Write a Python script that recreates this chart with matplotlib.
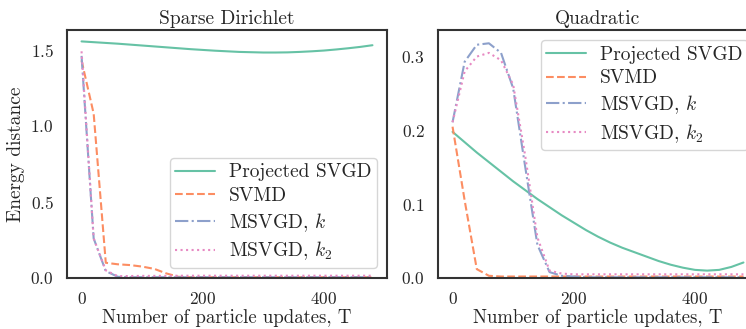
import matplotlib
matplotlib.use("Agg")
import seaborn as sns
from matplotlib import pyplot as plt

sns.set_theme(style="white")
plt.rcParams["font.family"] = ["cmr10", "DejaVu Serif"]
plt.rcParams["mathtext.fontset"] = "cm"
plt.rcParams["axes.formatter.use_mathtext"] = True
plt.rcParams["axes.unicode_minus"] = False

colors = ["#66c2a5", "#fc8d62", "#8da0cb", "#e78ac3"]
labels = ["Projected SVGD", "SVMD", "MSVGD, $k$", "MSVGD, $k_2$"]
styles = ["-", "--", "-.", ":"]

T = list(range(0, 500, 20))

# Sparse Dirichlet
dir_proj = [1.555, 1.550, 1.545, 1.540, 1.534, 1.528, 1.522, 1.516, 1.510, 1.504,
            1.499, 1.494, 1.490, 1.486, 1.484, 1.482, 1.482, 1.483, 1.486, 1.490,
            1.495, 1.502, 1.510, 1.519, 1.530]
dir_svmd = [1.43, 1.08, 0.10, 0.09, 0.085, 0.075, 0.06, 0.03, 0.008, 0.005,
            0.005, 0.005, 0.005, 0.005, 0.005, 0.005, 0.005, 0.005, 0.005, 0.005,
            0.005, 0.005, 0.005, 0.005, 0.005]
dir_k = [1.46, 0.26, 0.045, 0.008, 0.005, 0.005, 0.005, 0.005, 0.005, 0.005,
         0.005, 0.005, 0.005, 0.005, 0.005, 0.005, 0.005, 0.005, 0.005, 0.005,
         0.005, 0.005, 0.005, 0.005, 0.005]
dir_k2 = [1.49, 0.26, 0.05, 0.012, 0.013, 0.014, 0.014, 0.014, 0.015, 0.015,
          0.015, 0.015, 0.015, 0.015, 0.015, 0.015, 0.015, 0.015, 0.015, 0.015,
          0.015, 0.015, 0.015, 0.015, 0.015]

# Quadratic
quad_proj = [0.198, 0.184, 0.170, 0.157, 0.144, 0.131, 0.119, 0.107, 0.096, 0.085,
             0.075, 0.065, 0.056, 0.048, 0.041, 0.035, 0.029, 0.023, 0.018, 0.014,
             0.011, 0.010, 0.011, 0.015, 0.021]
quad_svmd = [0.205, 0.105, 0.012, 0.003, 0.002, 0.002, 0.002, 0.002, 0.002, 0.002,
             0.002, 0.002, 0.002, 0.002, 0.002, 0.002, 0.002, 0.002, 0.002, 0.002,
             0.002, 0.002, 0.002, 0.002, 0.002]
quad_k = [0.211, 0.293, 0.316, 0.318, 0.305, 0.257, 0.150, 0.045, 0.008, 0.003,
          0.002, 0.001, 0.001, 0.001, 0.001, 0.001, 0.001, 0.001, 0.001, 0.001,
          0.001, 0.001, 0.001, 0.001, 0.001]
quad_k2 = [0.211, 0.280, 0.300, 0.305, 0.295, 0.262, 0.165, 0.055, 0.010, 0.006,
           0.005, 0.005, 0.005, 0.005, 0.005, 0.005, 0.005, 0.005, 0.005, 0.005,
           0.005, 0.005, 0.005, 0.005, 0.005]

fig = plt.figure(figsize=(7.46, 3.29), dpi=100)
ax1 = fig.add_axes([67 / 746, 51 / 329, 320 / 746, 248 / 329])
ax2 = fig.add_axes([438 / 746, 51 / 329, 320 / 746, 248 / 329])

panels = [
    (ax1, "Sparse Dirichlet", [dir_proj, dir_svmd, dir_k, dir_k2], (0, 1.63), "lower right"),
    (ax2, "Quadratic", [quad_proj, quad_svmd, quad_k, quad_k2], (0, 0.336), "upper right"),
]

for ax, title, series, ylim, loc in panels:
    for ys, c, lab, ls in zip(series, colors, labels, styles):
        ax.plot(T, ys, color=c, linestyle=ls, linewidth=1.5, label=lab)
    ax.set_title(title, fontsize=14, pad=4)
    ax.set_xlabel("Number of particle updates, T", fontsize=13.5, labelpad=1)
    ax.set_xlim(-24, 504)
    ax.set_ylim(*ylim)
    ax.set_xticks([0, 200, 400])
    ax.tick_params(labelsize=12.5)
    for sp in ax.spines.values():
        sp.set_linewidth(1.5)
        sp.set_color("#333333")
    ax.legend(loc=loc, fontsize=14, handlelength=2.05, borderpad=0.3,
              labelspacing=0.3, handletextpad=0.7)

ax1.set_yticks([0.0, 0.5, 1.0, 1.5])
ax2.set_yticks([0.0, 0.1, 0.2, 0.3])
ax1.set_ylabel("Energy distance", fontsize=14)

fig.savefig("out.png", dpi=100)
